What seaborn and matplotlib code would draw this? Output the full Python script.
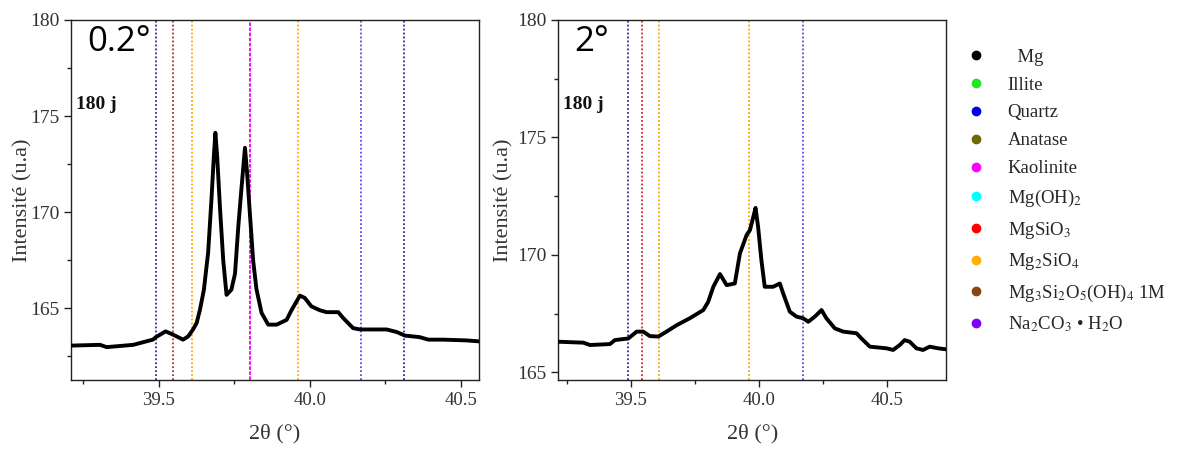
import numpy as np
import pandas as pd
import seaborn as sns
import matplotlib.pyplot as plt
from matplotlib.lines import Line2D
from matplotlib.ticker import MultipleLocator, FormatStrFormatter

# pattern at 0.2 deg incidence
two_theta_02 = [39.209, 39.305, 39.327, 39.415, 39.48, 39.49, 39.522, 39.547, 39.58, 39.597,
                39.613, 39.625, 39.636, 39.649, 39.663, 39.674, 39.682, 39.687, 39.693, 39.702,
                39.713, 39.724, 39.74, 39.752, 39.763, 39.774, 39.785, 39.792, 39.801, 39.812,
                39.823, 39.84, 39.862, 39.89, 39.923, 39.939, 39.956, 39.967, 39.983, 40.005,
                40.033, 40.055, 40.094, 40.11, 40.143, 40.166, 40.254, 40.287, 40.315, 40.364,
                40.392, 40.442, 40.519, 40.56]
intens_02 = [163.06, 163.1, 162.98, 163.1, 163.37, 163.5, 163.8, 163.63, 163.37, 163.54,
             163.9, 164.24, 164.93, 165.97, 167.9, 170.66, 172.92, 174.13, 172.9, 170.3,
             167.5, 165.7, 165.97, 166.8, 169.27, 171.35, 173.35, 172.05, 170.0, 167.5,
             166.0, 164.76, 164.15, 164.15, 164.4, 164.9, 165.36, 165.66, 165.54, 165.1,
             164.9, 164.8, 164.8, 164.5, 163.97, 163.9, 163.9, 163.77, 163.58, 163.5,
             163.37, 163.37, 163.33, 163.28]

# pattern at 2 deg incidence
two_theta_2 = [39.216, 39.314, 39.34, 39.418, 39.437, 39.49, 39.522, 39.548, 39.574, 39.607,
               39.639, 39.678, 39.73, 39.783, 39.802, 39.822, 39.848, 39.874, 39.906, 39.926,
               39.952, 39.965, 39.978, 39.987, 39.997, 40.01, 40.023, 40.056, 40.082, 40.095,
               40.121, 40.147, 40.173, 40.193, 40.219, 40.245, 40.264, 40.297, 40.33, 40.382,
               40.401, 40.434, 40.499, 40.525, 40.551, 40.57, 40.59, 40.616, 40.642, 40.668,
               40.701, 40.73]
intens_2 = [166.3, 166.26, 166.16, 166.2, 166.37, 166.44, 166.73, 166.73, 166.54, 166.52,
            166.73, 167.0, 167.3, 167.65, 168.0, 168.64, 169.18, 168.71, 168.78, 170.06,
            170.84, 171.05, 171.6, 172.0, 171.2, 169.77, 168.64, 168.64, 168.78, 168.36,
            167.58, 167.37, 167.3, 167.15, 167.37, 167.65, 167.3, 166.87, 166.73, 166.66,
            166.44, 166.09, 166.02, 165.95, 166.16, 166.37, 166.3, 166.02, 165.95, 166.09,
            166.02, 165.98]

# reference peak positions
ref_02_x = [39.489, 39.546, 39.61, 39.801, 39.959, 40.169, 40.311]
ref_02_c = ["#2b2ba8", "#b03030", "#ffa500", "#ee00ee", "#ffa500", "#6a40e8", "#2b2ba8"]
ref_2_x = [39.489, 39.544, 39.608, 39.961, 40.173]
ref_2_c = ["#2b2ba8", "#e02020", "#ffa500", "#ffa500", "#6a40e8"]

phases = ["  Mg", "Illite", "Quartz", "Anatase", "Kaolinite", "Mg(OH)$_2$", "MgSiO$_3$",
          "Mg$_2$SiO$_4$", "Mg$_3$Si$_2$O$_5$(OH)$_4$ 1M", "Na$_2$CO$_3$ • H$_2$O"]
phase_colors = ["#000000", "#22e622", "#0000ee", "#6b6b00", "#ff00ff", "#00ffff", "#ff0000",
                "#ffb000", "#8b4513", "#7f00ff"]

sns.set_theme(style="ticks")
plt.rcParams['font.family'] = ['Liberation Serif', 'DejaVu Serif']
plt.rcParams['mathtext.fontset'] = 'stix'

fig = plt.figure(figsize=(11.9, 4.51), dpi=100)
ax1 = fig.add_axes([0.0597, 0.1574, 0.3428, 0.7983])
ax2 = fig.add_axes([0.4692, 0.1574, 0.3258, 0.7983])


def draw_panel(ax, x, y, ref_x, ref_c, xlim, ylim, tag, ypad):
    for xv, c in zip(ref_x, ref_c):
        ls = (0, (2, 0.8)) if c == "#ee00ee" else (0, (1, 1.2))
        ax.axvline(xv, color=c, lw=1.3, ls=ls, zorder=1)
    df = pd.DataFrame({"x": x, "y": y})
    sns.lineplot(data=df, x="x", y="y", ax=ax, color="black", lw=2.8, zorder=3)
    ax.set_xlim(*xlim)
    ax.set_ylim(*ylim)
    ax.xaxis.set_major_locator(MultipleLocator(0.5))
    ax.xaxis.set_minor_locator(MultipleLocator(0.25))
    ax.xaxis.set_major_formatter(FormatStrFormatter("%.1f"))
    ax.yaxis.set_major_locator(MultipleLocator(5))
    ax.yaxis.set_minor_locator(MultipleLocator(2.5))
    ax.tick_params(which="major", length=5, width=1, labelsize=14, labelcolor="#333333",
                   color="#222222", direction="out")
    ax.tick_params(axis="x", which="major", labelsize=13.5)
    ax.tick_params(which="minor", length=3, width=1, color="#222222", direction="out")
    for s in ax.spines.values():
        s.set_color("#222222")
        s.set_linewidth(1)
    ax.set_xlabel("2θ (°)", fontsize=16, color="#333333", labelpad=11)
    ax.set_ylabel("Intensité (u.a)", fontsize=16, color="#333333", labelpad=ypad)
    ax.text(0.04, 0.985, tag, transform=ax.transAxes, fontsize=25, va="top", ha="left",
            family=["Open Sans", "DejaVu Sans"], color="black")
    ax.text(0.013, 0.765, "180 j", transform=ax.transAxes, fontsize=14, fontweight="bold",
            va="center", ha="left", color="#111111")


draw_panel(ax1, two_theta_02, intens_02, ref_02_x, ref_02_c, (39.209, 40.56), (161.27, 180), "0.2°", -2)
draw_panel(ax2, two_theta_2, intens_2, ref_2_x, ref_2_c, (39.216, 40.732), (164.67, 180), "2°", 3)

handles = [Line2D([], [], ls="none", marker="o", ms=6, color=c) for c in phase_colors]
fig.legend(handles, phases, loc="upper left", bbox_to_anchor=(0.812, 0.892), frameon=False,
           fontsize=13.5, handlelength=1, handletextpad=1.2, borderpad=0, borderaxespad=0,
           labelspacing=0.57)

fig.savefig("out.png", dpi=100)
